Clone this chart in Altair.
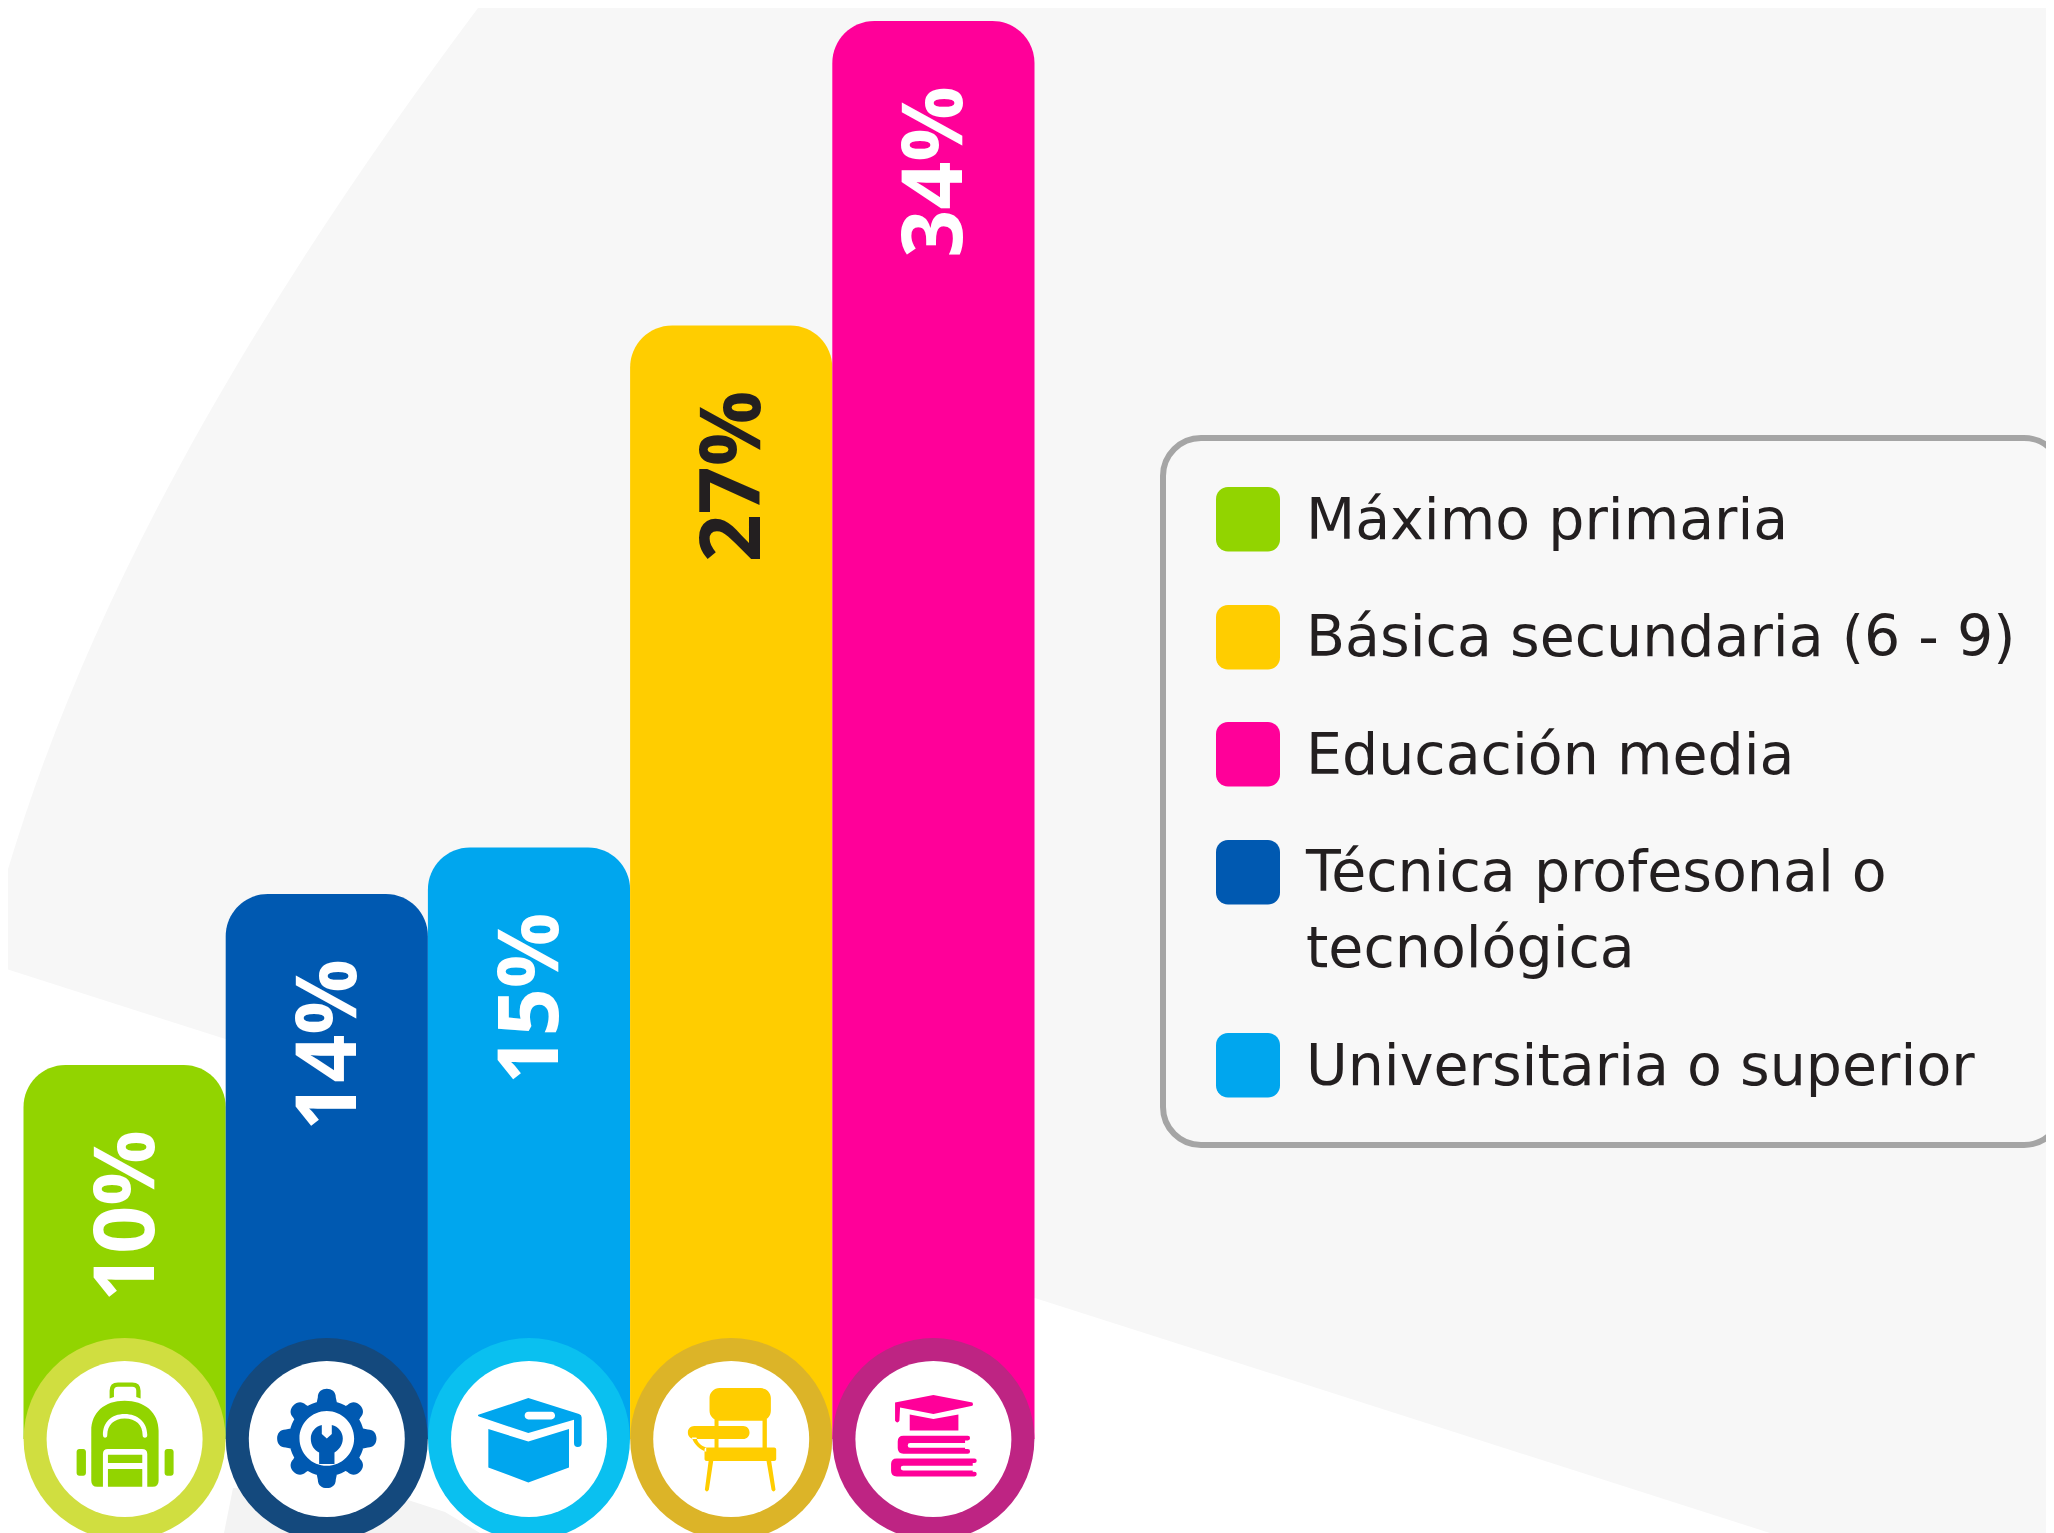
import re
import math
import altair as alt
import pandas as pd

# ---- data ----
categories = ["Máximo primaria", "Técnica profesonal o tecnológica", "Universitaria o superior",
              "Básica secundaria (6 - 9)", "Educación media"]
values = [10, 13.93, 15, 27, 34]
value_labels = ["10%", "14%", "15%", "27%", "34%"]
bar_colors = ["#92D400", "#0059B1", "#00A6EE", "#FFCD00", "#FF0099"]
ring_colors = ["#D0DE40", "#14497D", "#0AC0F0", "#DCB428", "#BE2483"]
legend_order = ["Máximo primaria", "Básica secundaria (6 - 9)", "Educación media",
                "Técnica profesonal o tecnológica", "Universitaria o superior"]
legend_colors = ["#92D400", "#FFCD00", "#FF0099", "#0059B1", "#00A6EE"]
legend_lines = [["Máximo primaria"], ["Básica secundaria (6 - 9)"], ["Educación media"],
                ["Técnica profesonal o", "tecnológica"], ["Universitaria o superior"]]

# ---- layout (page pixels; the svg sits 8px inside the page) ----
M = 8
W, H = 2054 - 2 * M, 1533 - M
PX_PER_UNIT = 43.5
ZERO_CY = 1492
BASE = 1.4
DARK = "#231F20"


def scale_path(d, fn):
    """Rewrite an absolute M/L/Q/C/Z path through fn(x, y)."""
    out, nums = [], []
    for tok in re.findall(r"[MLQCZ]|-?\d+\.?\d*", d):
        if tok in "MLQCZ":
            out.append(tok)
        else:
            nums.append(float(tok))
            if len(nums) == 2:
                x, y = fn(*nums)
                out.append(f"{x:.4f} {y:.4f}")
                nums = []
    return " ".join(out)


def icon(d):
    return scale_path(d, lambda x, y: ((x - 210) / 300, (y - 210) / 300))


def page(d):
    return scale_path(d, lambda x, y: (x / 1000, y / 1000))


def rr(x0, y0, x1, y1, r, ccw=False):
    k = 0.55 * r
    if not ccw:
        return (f"M{x0+r},{y0} L{x1-r},{y0} C{x1-r+k},{y0} {x1},{y0+r-k} {x1},{y0+r} "
                f"L{x1},{y1-r} C{x1},{y1-r+k} {x1-r+k},{y1} {x1-r},{y1} "
                f"L{x0+r},{y1} C{x0+r-k},{y1} {x0},{y1-r+k} {x0},{y1-r} "
                f"L{x0},{y0+r} C{x0},{y0+r-k} {x0+r-k},{y0} {x0+r},{y0} Z ")
    return (f"M{x0+r},{y0} C{x0+r-k},{y0} {x0},{y0+r-k} {x0},{y0+r} L{x0},{y1-r} "
            f"C{x0},{y1-r+k} {x0+r-k},{y1} {x0+r},{y1} L{x1-r},{y1} "
            f"C{x1-r+k},{y1} {x1},{y1-r+k} {x1},{y1-r} L{x1},{y0+r} "
            f"C{x1},{y0+r-k} {x1-r+k},{y0} {x1-r},{y0} Z ")


def disc(cx, cy, r, ccw=False):
    return rr(cx - r, cy - r, cx + r, cy + r, r, ccw)


def tooth(cx, cy, deg, reach):
    a = math.radians(deg)
    def p(u, v):
        return f"{cx + u*math.cos(a) - v*math.sin(a):.2f},{cy + u*math.sin(a) + v*math.cos(a):.2f}"
    w0, w1, b = 33, 27, 95
    return (f"M{p(-w0, -b)} L{p(-w1, -reach+26)} C{p(-w1, -reach+8)} {p(-14, -reach)} {p(0, -reach)} "
            f"C{p(14, -reach)} {p(w1, -reach+8)} {p(w1, -reach+26)} L{p(w0, -b)} Z ")


def book(x0, y0, xs, xe, xt):
    return (f"M{x0+17},{y0} L{xt-7},{y0} Q{xt},{y0} {xt},{y0+7} Q{xt},{y0+14} {xt-7},{y0+14} L{xe},{y0+14} "
            f"L{xe},{y0+22} L{xs+7},{y0+22} Q{xs},{y0+22} {xs},{y0+29} Q{xs},{y0+36} {xs+7},{y0+36} "
            f"L{xe},{y0+36} L{xe},{y0+40} L{xt-7},{y0+40} Q{xt},{y0+40} {xt},{y0+47} Q{xt},{y0+54} {xt-7},{y0+54} "
            f"L{x0+17},{y0+54} Q{x0},{y0+54} {x0},{y0+37} L{x0},{y0+17} Q{x0},{y0} {x0+17},{y0} Z ")


backpack = (
    "M165,88 L165,65 Q165,40 190,40 L233,40 Q258,40 258,65 L258,88 L245,84 L245,65 Q245,53 233,53 "
    "L190,53 Q178,53 178,65 L178,84 Z "
    "M110,185 C110,130 150,95 210,95 C270,95 312,130 312,185 L312,335 Q312,353 294,353 L278,353 "
    "L278,255 Q278,240 262,240 L160,240 Q145,240 145,255 L145,353 L128,353 Q110,353 110,335 Z "
    "M158,198 C158,168 178,148 210,148 C245,148 264,168 264,198 Q264,206 271,206 Q278,206 278,198 "
    "C278,160 250,135 210,135 C170,135 145,160 145,198 Q145,206 151,206 Q158,206 158,198 Z "
    + rr(160, 257, 263, 282, 1) + rr(160, 300, 263, 353, 1)
    + rr(66, 240, 94, 320, 8) + rr(330, 240, 357, 320, 8)
)
gear = (
    disc(210, 208, 113) + disc(210, 208, 82, ccw=True)
    + "".join(tooth(210, 208, d, 149 if d % 90 == 0 else 141) for d in range(0, 360, 45))
    + "M195,168 L195,195 L210,208 L225,195 L225,168 C245,172 258,190 258,208 C258,228 245,243 233,250 "
      "L233,285 L187,285 L187,250 C172,243 162,228 162,208 C162,190 175,172 195,168 Z "
)
cap = (
    "M58,137 L208,87 L360,135 Q368,138 368,145 L368,222 Q368,234 356,234 Q345,234 345,222 L345,152 "
    "L208,192 L60,142 Q55,140 58,137 Z "
    + rr(197, 128, 288, 151, 11, ccw=True)
    + "M88,180 L208,217 L330,180 L330,295 L208,340 L88,295 Z "
)
chair = (
    rr(145, 57, 329, 155, 30) + rr(80, 171, 265, 210, 19) + rr(130, 235, 345, 276, 6)
    + rr(160, 150, 172, 240, 1) + rr(304, 150, 317, 240, 1)
    + "M143,270 L157,270 L143,362 Q137,372 131,362 Z "
    + "M315,270 L329,270 L343,362 Q337,372 331,362 Z "
    + "M92,205 C98,225 115,240 135,248 L135,235 C120,230 108,220 106,205 Z "
)
books = (
    "M95,100 L210,78 L327,100 Q331,106 327,110 L210,135 L110,115 L108,155 Q102,165 95,155 Z "
    "M139,136 L210,150 L285,136 L285,184 L139,184 Z "
    + book(103, 200, 133, 305, 320) + book(83, 268, 112, 328, 340)
)
icons = [backpack, gear, cap, chair, books]

bg_main = page("M484,0 C259,300 84,597 0,897 L0,967 L1770,1533 L2060,1533 L2060,0 Z")
bg_wedge = page("M224,1533 L233,1488 L300,1490 L408,1500 L445,1512 L480,1533 Z")

# ---- tables ----
df = pd.DataFrame({"cat": categories, "value": values, "label": value_labels, "base": [BASE] * 5})
lines = []
for r, ls in enumerate(legend_lines):
    for i, t in enumerate(ls):
        lines.append({"row": r, "line": i, "text": t})
baselines = [539, 656, 774, 891, 1085]
line_gap = 76
for l in lines:
    l["py"] = baselines[l["row"]] + l["line"] * line_gap - M
legend_text_df = pd.DataFrame(lines)
sw_tops = [487, 605, 722, 840, 1033]
swatch_df = pd.DataFrame({"cat": legend_order, "color": legend_colors,
                          "py": [t - M for t in sw_tops], "py2": [t + 64.5 - M for t in sw_tops]})
one = pd.DataFrame({"a": [0]})

X = alt.X("cat:N", sort=categories, axis=None,
          scale=alt.Scale(type="band", domain=categories, range=[23.5 - M, 1034.5 - M],
                          paddingInner=0, paddingOuter=0))
Y = alt.Y("value:Q", axis=None,
          scale=alt.Scale(domain=[(ZERO_CY - H) / PX_PER_UNIT, ZERO_CY / PX_PER_UNIT], nice=False, zero=False))
YB = alt.Y("base:Q", axis=None,
           scale=alt.Scale(domain=[(ZERO_CY - H) / PX_PER_UNIT, ZERO_CY / PX_PER_UNIT], nice=False, zero=False))
fill_bar = alt.Color("cat:N", legend=None, scale=alt.Scale(domain=categories, range=bar_colors))


def backdrop(path, colour):
    return alt.Chart(one).mark_point(shape=path, filled=True, opacity=1, strokeWidth=0, size=4000000,
                                     color=colour).encode(x=alt.value(-M), y=alt.value(-M))


layers = [backdrop(bg_main, "#F7F7F7"), backdrop(bg_wedge, "#F3F3F3")]

layers.append(alt.Chart(df).mark_bar(cornerRadiusTopLeft=42, cornerRadiusTopRight=42).encode(
    x=X, y=Y, y2="base:Q",
    color=fill_bar))

for c, ring, ic, bar in zip(categories, ring_colors, icons, bar_colors):
    sub = df[df.cat == c]
    layers.append(alt.Chart(sub).mark_point(shape="circle", filled=True, opacity=1, strokeWidth=0,
                                            size=202 ** 2, color=ring).encode(x=X, y=YB))
    layers.append(alt.Chart(sub).mark_point(shape="circle", filled=True, opacity=1, strokeWidth=0,
                                            size=156 ** 2, color="white").encode(x=X, y=YB))
    layers.append(alt.Chart(sub).mark_point(shape=icon(ic), filled=True, opacity=1, strokeWidth=0,
                                            size=200 ** 2, color=bar).encode(x=X, y=YB))

layers.append(alt.Chart(df).mark_text(angle=270, align="right", baseline="middle", dx=-65, dy=4,
                                      font="Open Sans", fontWeight=700, fontSize=84).encode(
    x=X, y=Y, text="label:N",
    color=alt.condition(alt.datum.label == "27%", alt.value(DARK), alt.value("white"))))

# legend panel
layers.append(alt.Chart(one).mark_rect(fill="#F8F8F8", stroke="#A5A5A5", strokeWidth=6, cornerRadius=38).encode(
    x=alt.value(1163 - M), x2=alt.value(2062 - M), y=alt.value(438 - M), y2=alt.value(1145 - M)))
layers.append(alt.Chart(swatch_df).mark_rect(cornerRadius=12).encode(
    x=alt.value(1216 - M), x2=alt.value(1280 - M),
    y=alt.Y("py:Q", scale=None, axis=None), y2="py2:Q",
    color=alt.Color("color:N", scale=None, legend=None)))
layers.append(alt.Chart(legend_text_df).mark_text(align="left", baseline="alphabetic", font="DejaVu Sans",
                                                  fontWeight=400, fontSize=57, color=DARK).encode(
    x=alt.value(1306 - M), y=alt.Y("py:Q", scale=None, axis=None), text="text:N"))

chart = alt.layer(*layers).resolve_scale(color="independent", y="independent").properties(
    width=W, height=H, padding=0, autosize=alt.AutoSizeParams(type="none"), background="white"
).configure_view(stroke=None)

chart.save("out.html", embed_options={"renderer": "svg", "actions": False})
